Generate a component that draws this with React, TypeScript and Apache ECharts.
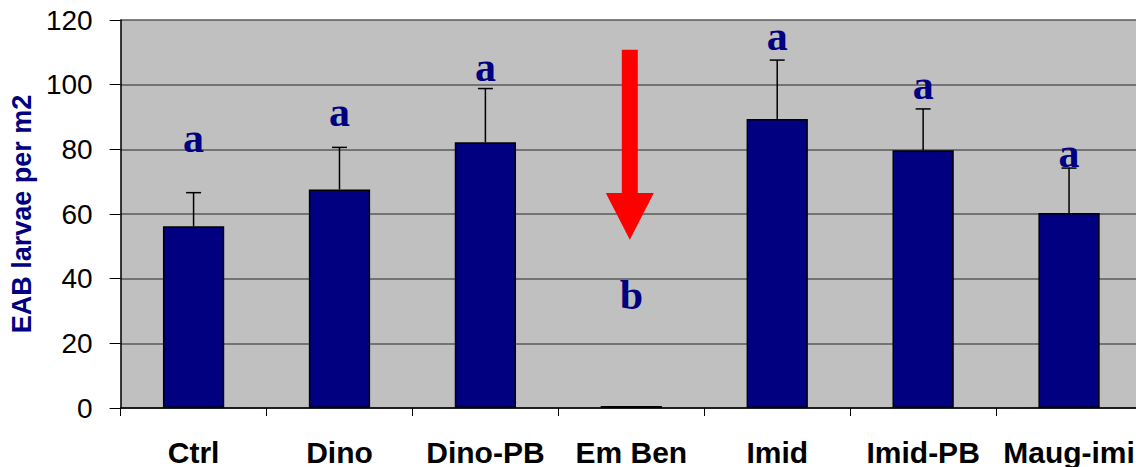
import React, { useEffect, useRef } from "react";
import * as echarts from "echarts";

const categories = ["Ctrl", "Dino", "Dino-PB", "Em Ben", "Imid", "Imid-PB", "Maug-imi"];
const means = [56.2, 67.6, 82.2, 0.6, 89.4, 79.7, 60.3];
const errorTops = [66.6, 80.6, 98.8, 0.6, 107.6, 92.5, 74.2];
const letters = ["a", "a", "a", "b", "a", "a", "a"];
const letterPos = [83.4, 91.5, 105.4, 34.9, 114.9, 100.0, 78.8];
// arrow over "Em Ben": shaft top, head base, tip (axis units)
const arrowIndex = 3;
const arrowValues = [110.8, 66.5, 52.0];
const yTicks = { min: 0, max: 120, interval: 20 };

export default function App() {
  const ref = useRef<HTMLDivElement>(null);
  useEffect(() => {
    if (!ref.current) return;
    const chart = echarts.init(ref.current, null, { renderer: "svg" });
    const font = "Liberation Sans";
    chart.setOption({
      animation: false,
      grid: { left: 119, right: 8, top: 20, bottom: 57, show: true, backgroundColor: "#C0C0C0", borderWidth: 0 },
      xAxis: {
        type: "category",
        data: categories,
        axisLine: { lineStyle: { color: "#000", width: 1.5 } },
        axisTick: { show: true, length: 8, lineStyle: { color: "#000", width: 1 } },
        axisLabel: { color: "#000", fontFamily: font, fontWeight: "bold", fontSize: 30, margin: 29, interval: 0 },
      },
      yAxis: {
        type: "value",
        min: yTicks.min,
        max: yTicks.max,
        interval: yTicks.interval,
        name: "EAB larvae per m2",
        nameLocation: "middle",
        nameGap: 81,
        nameRotate: 90,
        nameTextStyle: { color: "#000080", fontFamily: font, fontWeight: "bold", fontSize: 27 },
        axisLine: { show: true, lineStyle: { color: "#000", width: 1.5 } },
        axisTick: { show: true, length: 11, lineStyle: { color: "#000", width: 1 } },
        axisLabel: { color: "#000", fontFamily: font, fontSize: 28, margin: 28 },
        splitLine: { show: true, lineStyle: { color: "#5a5a5a", width: 1.5 } },
      },
      series: [
        {
          type: "bar",
          data: means,
          barWidth: "42%",
          itemStyle: { color: "#000080", borderColor: "#000", borderWidth: 1.5 },
          z: 2,
        },
        {
          type: "custom",
          data: means.map((m, i) => [i, m, errorTops[i]]),
          z: 3,
          clip: false,
          renderItem: (params: any, api: any) => {
            const i = api.value(0);
            const p0 = api.coord([i, api.value(1)]);
            const p1 = api.coord([i, api.value(2)]);
            if (Math.abs(p0[1] - p1[1]) < 1) return { type: "group", children: [] };
            const style = { stroke: "#000", lineWidth: 1.5 };
            return {
              type: "group",
              children: [
                { type: "line", shape: { x1: p0[0], y1: p0[1], x2: p1[0], y2: p1[1] }, style },
                { type: "line", shape: { x1: p1[0] - 7.5, y1: p1[1], x2: p1[0] + 7.5, y2: p1[1] }, style },
              ],
            };
          },
        },
        {
          type: "custom",
          data: letters.map((l, i) => [i, letterPos[i], l]),
          z: 4,
          clip: false,
          renderItem: (params: any, api: any) => {
            const idx = params.dataIndex;
            const p = api.coord([api.value(0), api.value(1)]);
            return {
              type: "text",
              x: p[0],
              y: p[1],
              style: {
                text: letters[idx],
                fill: "#000080",
                font: "bold 42px 'Liberation Serif'",
                align: "center",
                verticalAlign: "middle",
              },
            };
          },
        },
        {
          type: "custom",
          data: [[arrowIndex, arrowValues[0], arrowValues[1], arrowValues[2]]],
          z: 5,
          clip: false,
          renderItem: (params: any, api: any) => {
            const i = api.value(0);
            const top = api.coord([i, api.value(1)]);
            const base = api.coord([i, api.value(2)]);
            const tip = api.coord([i, api.value(3)]);
            const cx = top[0] - 1.5;
            const sw = 8;
            const hw = 24;
            return {
              type: "polygon",
              shape: {
                points: [
                  [cx - sw, top[1]],
                  [cx + sw, top[1]],
                  [cx + sw, base[1]],
                  [cx + hw, base[1]],
                  [cx, tip[1]],
                  [cx - hw, base[1]],
                  [cx - sw, base[1]],
                ],
              },
              style: { fill: "#FF0000" },
            };
          },
        },
      ],
    });
    return () => chart.dispose();
  }, []);
  return (
    <div
      ref={ref}
      style={{ position: "fixed", left: 0, top: 0, width: 1150, height: 467, background: "#fff" }}
    />
  );
}
